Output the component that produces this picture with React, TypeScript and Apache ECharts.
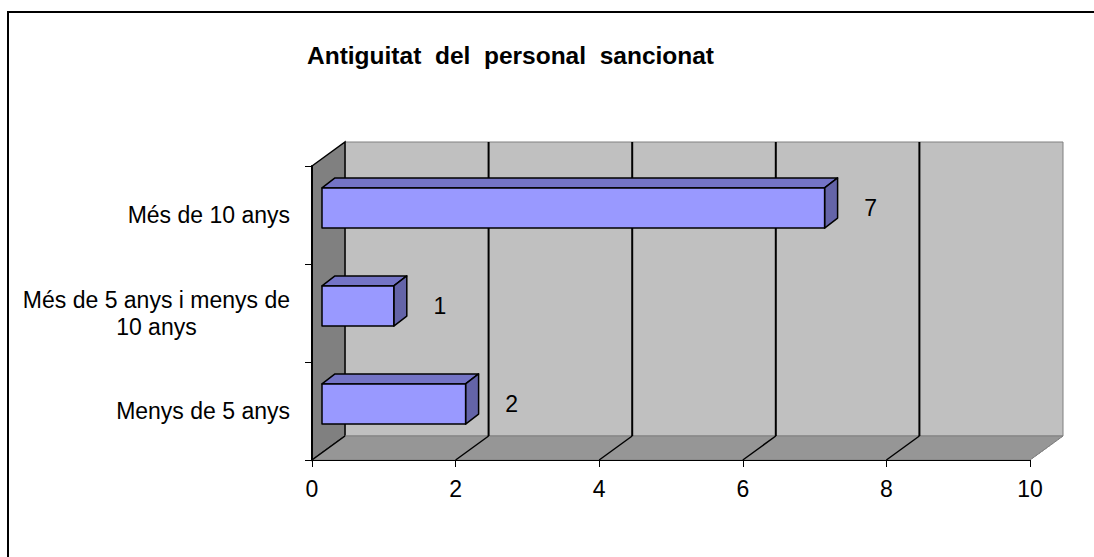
import React, { useEffect, useRef } from "react";
import * as echarts from "echarts";

const FONT = "'Liberation Sans', Arial, sans-serif";

const titleText = "Antiguitat  del  personal  sancionat";
const categories = ["Menys de 5 anys", "Més de 5 anys i menys de\n10 anys", "Més de 10 anys"];
const values = [2, 1, 7];
const xTicks = [0, 2, 4, 6, 8, 10];

// 3D depth offsets (pixels)
const DX = 33;
const DY = 24;

export default function App() {
  const ref = useRef<HTMLDivElement>(null);

  useEffect(() => {
    if (!ref.current) return;
    const chart = echarts.init(ref.current, undefined, { renderer: "svg" });

    const wallRender = (params: any, api: any) => {
      const cs = params.coordSys;
      const x0 = cs.x, y0 = cs.y, w = cs.width, h = cs.height;
      const yb = y0 + h;
      const children: any[] = [];
      children.push({
        type: "rect",
        shape: { x: x0 + DX, y: y0 - DY, width: w, height: h },
        style: { fill: "#C0C0C0", stroke: "#808080", lineWidth: 1 },
      });
      children.push({
        type: "polygon",
        shape: { points: [[x0, y0], [x0 + DX, y0 - DY], [x0 + DX, yb - DY], [x0, yb]] },
        style: { fill: "#808080", stroke: "#000", lineWidth: 1.5 },
      });
      children.push({
        type: "polygon",
        shape: { points: [[x0, yb], [x0 + DX, yb - DY], [x0 + w + DX, yb - DY], [x0 + w, yb]] },
        style: { fill: "#969696", stroke: "#808080", lineWidth: 1 },
      });
      xTicks.forEach((v, i) => {
        const px = api.coord([v, 0])[0];
        const last = i === xTicks.length - 1;
        if (i !== 0 && !last) {
          children.push({
            type: "line",
            shape: { x1: px + DX, y1: y0 - DY, x2: px + DX, y2: yb - DY },
            style: { stroke: "#000", lineWidth: 2 },
          });
        }
        children.push({
          type: "line",
          shape: { x1: px + DX, y1: yb - DY, x2: px, y2: yb },
          style: last
            ? { stroke: "#808080", lineWidth: 1, lineDash: [2, 2] }
            : { stroke: "#000", lineWidth: 1.5 },
        });
      });
      return { type: "group", children };
    };

    const barRender = (params: any, api: any) => {
      const val = api.value(0);
      const idx = api.value(1);
      const s = api.coord([0, idx]);
      const e = api.coord([val, idx]);
      const band = api.size([0, 1])[1];
      const bh = band * 0.41;
      const fx = 10, fy = 7, bx = 13, by = 10;
      const xL = s[0] + fx, xR = e[0] + fx;
      const yT = s[1] - fy - bh / 2, yB = yT + bh;
      const stroke = { stroke: "#000", lineWidth: 1.5, lineJoin: "round" };
      return {
        type: "group",
        children: [
          {
            type: "polygon",
            shape: { points: [[xL, yT], [xL + bx, yT - by], [xR + bx, yT - by], [xR, yT]] },
            style: { fill: "#7474C6", ...stroke },
          },
          {
            type: "polygon",
            shape: { points: [[xR, yT], [xR + bx, yT - by], [xR + bx, yB - by], [xR, yB]] },
            style: { fill: "#6464A8", ...stroke },
          },
          {
            type: "rect",
            shape: { x: xL, y: yT, width: xR - xL, height: bh },
            style: { fill: "#9999FF", ...stroke },
          },
          {
            type: "text",
            x: e[0] + 56,
            y: s[1] - fy,
            style: {
              text: String(val),
              fill: "#000",
              fontSize: 23,
              fontFamily: FONT,
              align: "center",
              verticalAlign: "middle",
            },
          },
        ],
      };
    };

    const option: any = {
      animation: false,
      backgroundColor: "#fff",
      title: {
        text: titleText,
        left: 307,
        top: 43,
        padding: 0,
        textStyle: { fontSize: 24.5, fontWeight: "bold", color: "#000", fontFamily: FONT },
      },
      graphic: [
        {
          type: "rect",
          shape: { x: 8, y: 12, width: 1200, height: 700 },
          style: { fill: "none", stroke: "#000", lineWidth: 2 },
          z: 100,
        },
      ],
      grid: { left: 312, right: 64, top: 166, bottom: 97, containLabel: false },
      xAxis: {
        type: "value",
        min: 0,
        max: 10,
        interval: 2,
        z: 5,
        axisLine: { show: true, lineStyle: { color: "#000", width: 1 } },
        axisTick: { show: true, length: 7, lineStyle: { color: "#000", width: 1 } },
        splitLine: { show: false },
        axisLabel: { fontSize: 23, color: "#000", fontFamily: FONT, margin: 17 },
      },
      yAxis: {
        type: "category",
        data: categories,
        z: 5,
        axisLine: { show: true, lineStyle: { color: "#000", width: 2 } },
        axisTick: { show: true, length: 7, lineStyle: { color: "#000", width: 1 } },
        splitLine: { show: false },
        axisLabel: {
          margin: 22,
          fontSize: 23,
          fontFamily: FONT,
          color: "#000",
          lineHeight: 27,
          formatter: (v: string) =>
            v
              .split("\n")
              .map((l, i) => (i === 0 ? `{l|${l}}` : `{c|${l}}`))
              .join("\n"),
          rich: {
            l: { fontSize: 23, fontFamily: FONT, color: "#000", lineHeight: 27 },
            c: { fontSize: 23, fontFamily: FONT, color: "#000", lineHeight: 27, align: "center" },
          },
        },
      },
      series: [
        {
          type: "custom",
          name: "walls",
          renderItem: wallRender,
          data: [[0, 0]],
          clip: false,
          silent: true,
          z: 1,
        },
        {
          type: "custom",
          name: "Antiguitat",
          renderItem: barRender,
          encode: { x: 0, y: 1 },
          data: values.map((v, i) => [v, i]),
          clip: false,
          z: 3,
        },
      ],
    };

    chart.setOption(option);
    return () => chart.dispose();
  }, []);

  return (
    <div
      ref={ref}
      style={{ position: "absolute", left: 0, top: 0, width: 1094, height: 557 }}
    />
  );
}
